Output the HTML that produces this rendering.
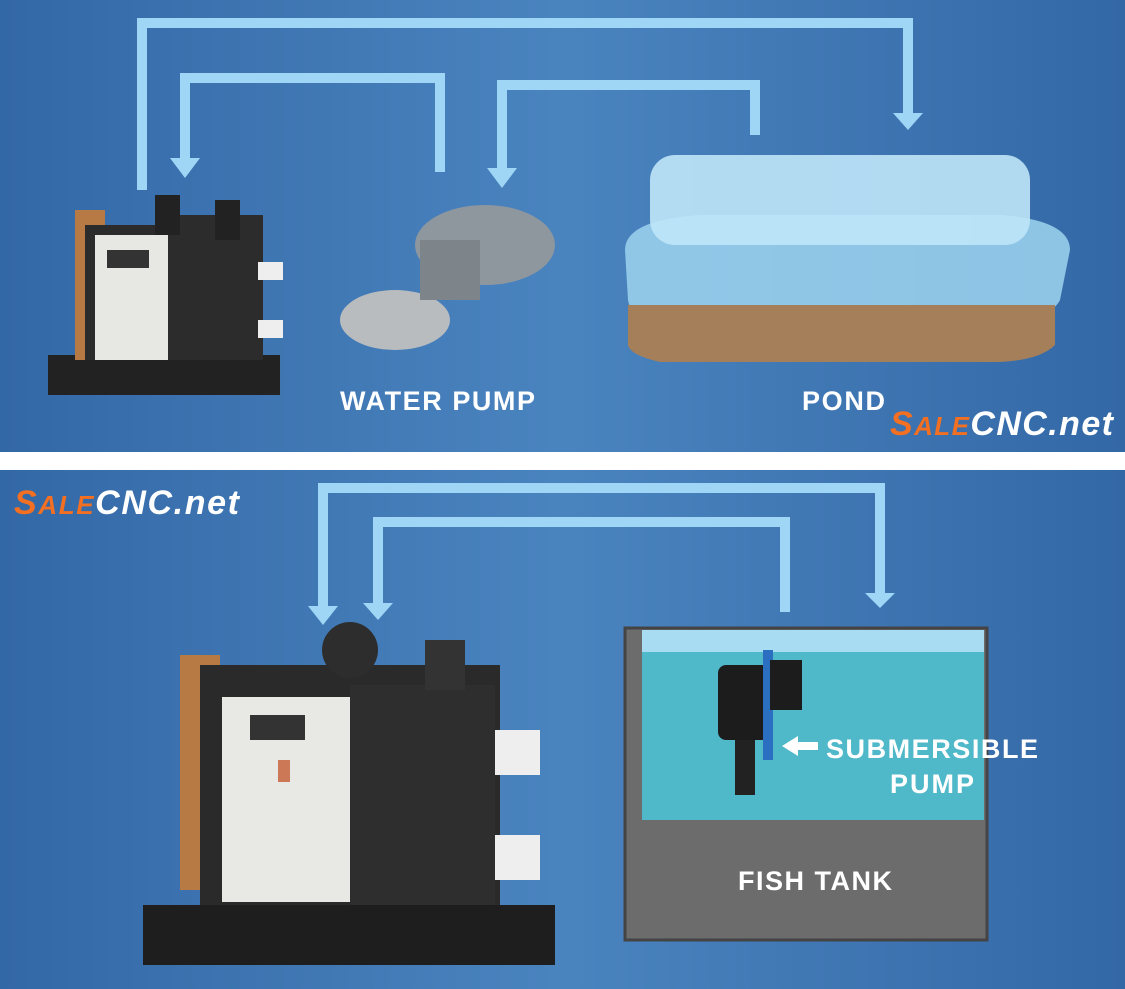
<!DOCTYPE html>
<html><head><meta charset="utf-8"><style>
body{margin:0;width:1125px;height:989px;overflow:hidden;background:#fff;font-family:"Liberation Sans",sans-serif}
svg{display:block}
</style></head><body>
<svg width="1125" height="989" viewBox="0 0 1125 989" xmlns="http://www.w3.org/2000/svg">
<defs>
<linearGradient id="bg" x1="0" y1="0" x2="1" y2="0">
<stop offset="0" stop-color="#3368a6"/><stop offset="0.5" stop-color="#4a84bf"/><stop offset="1" stop-color="#3368a6"/></linearGradient>
</defs>
<rect x="0" y="0" width="1125" height="452" fill="url(#bg)"/>
<rect x="0" y="470" width="1125" height="519" fill="url(#bg)"/>
<g fill="none" stroke="#9fd6f6" stroke-width="10">
<path d="M142 190 V23 H908 V115"/>
<path d="M185 160 V78 H440 V172"/>
<path d="M502 170 V85 H755 V135"/>
<path d="M323 608 V488 H880 V595"/>
<path d="M378 605 V522 H785 V612"/>
</g>
<g fill="#9fd6f6">
<polygon points="170,158 200,158 185,178"/>
<polygon points="487,168 517,168 502,188"/>
<polygon points="893,113 923,113 908,130"/>
<polygon points="308,606 338,606 323,625"/>
<polygon points="363,603 393,603 378,620"/>
<polygon points="865,593 895,593 880,608"/>
</g>
<!-- top chiller -->
<rect x="48" y="355" width="232" height="40" fill="#222"/>
<rect x="75" y="210" width="30" height="150" fill="#b87a45"/>
<rect x="85" y="225" width="90" height="135" fill="#2b2b2b"/>
<rect x="95" y="235" width="75" height="125" fill="#e7e7e4"/>
<rect x="107" y="250" width="42" height="18" fill="#333"/>
<rect x="168" y="215" width="95" height="145" fill="#2c2c2c"/>
<rect x="258" y="262" width="25" height="18" fill="#eee"/>
<rect x="258" y="320" width="25" height="18" fill="#eee"/>
<rect x="155" y="195" width="25" height="40" fill="#222"/>
<rect x="215" y="200" width="25" height="40" fill="#222"/>
<!-- water pump -->
<ellipse cx="485" cy="245" rx="70" ry="40" fill="#8e979e"/>
<ellipse cx="395" cy="320" rx="55" ry="30" fill="#b8bcbf"/>
<rect x="420" y="240" width="60" height="60" fill="#7d858b"/>
<!-- pond -->
<path d="M625 250 Q625 220 700 215 L1000 215 Q1070 220 1070 250 L1060 300 Q1050 320 1000 322 L680 322 Q630 320 628 300 Z" fill="#9dd3ee" opacity="0.85"/>
<rect x="650" y="155" width="380" height="90" rx="25" fill="#bfe6f8" opacity="0.9"/>
<path d="M628 305 L1055 305 L1055 345 Q1040 360 1000 362 L660 362 Q630 355 628 345 Z" fill="#a57f5a"/>
<text x="340" y="410" fill="#fff" font-size="27" font-weight="bold" textLength="195">WATER PUMP</text>
<text x="802" y="410" fill="#fff" font-size="27" font-weight="bold" textLength="83">POND</text>
<text x="890" y="435" fill="#f36f21" font-size="34" font-weight="bold" font-style="italic" textLength="223">S<tspan font-size="26">ALE</tspan><tspan fill="#fff">CNC.net</tspan></text>
<text x="14" y="514" fill="#f36f21" font-size="34" font-weight="bold" font-style="italic" textLength="225">S<tspan font-size="26">ALE</tspan><tspan fill="#fff">CNC.net</tspan></text>
<!-- bottom chiller -->
<rect x="143" y="905" width="412" height="60" fill="#1e1e1e"/>
<rect x="180" y="655" width="40" height="235" fill="#b87a45"/>
<rect x="200" y="665" width="300" height="240" fill="#2a2a2a"/>
<rect x="222" y="697" width="128" height="205" fill="#e8e8e4"/>
<rect x="250" y="715" width="55" height="25" fill="#333"/>
<rect x="278" y="760" width="12" height="22" fill="#c75"/>
<rect x="350" y="685" width="145" height="220" fill="#2e2e2e"/>
<rect x="495" y="730" width="45" height="45" fill="#eee"/>
<rect x="495" y="835" width="45" height="45" fill="#eee"/>
<circle cx="350" cy="650" r="28" fill="#2d2d2d"/>
<rect x="425" y="640" width="40" height="50" fill="#333"/>
<!-- fish tank -->
<rect x="625" y="628" width="362" height="312" fill="#6c6c6c" stroke="#444" stroke-width="3"/>
<rect x="642" y="630" width="342" height="190" fill="#4fb8c9"/>
<rect x="642" y="630" width="342" height="22" fill="#a7dcf2"/>
<rect x="718" y="665" width="55" height="75" rx="8" fill="#1c1c1c"/>
<rect x="735" y="740" width="20" height="55" fill="#222"/>
<path d="M768 650 V760" stroke="#2a6fc0" stroke-width="10" fill="none"/>
<rect x="770" y="660" width="32" height="50" fill="#1c1c1c"/>
<polygon points="782,746 798,736 798,742 818,742 818,750 798,750 798,756" fill="#fff"/>
<text x="826" y="758" fill="#fff" font-size="27" font-weight="bold" textLength="212">SUBMERSIBLE</text>
<text x="890" y="793" fill="#fff" font-size="27" font-weight="bold" textLength="84">PUMP</text>
<text x="738" y="890" fill="#fff" font-size="27" font-weight="bold" textLength="154">FISH TANK</text>
</svg>
</body></html>
